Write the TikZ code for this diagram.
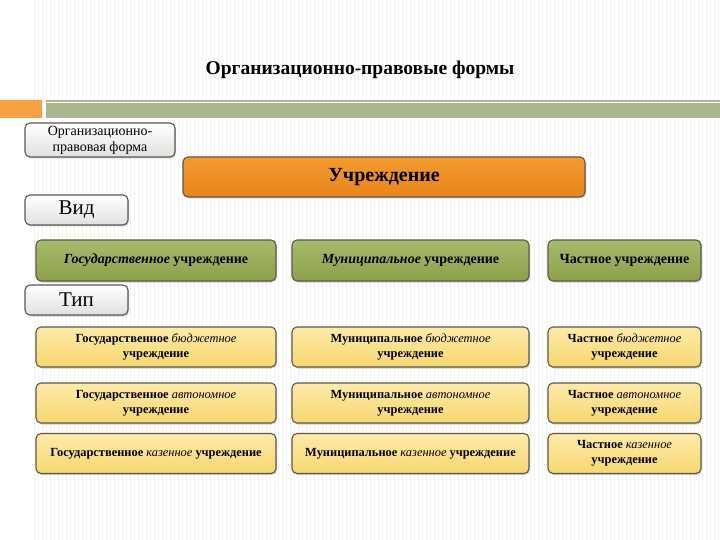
\documentclass[tikz,border=0pt]{standalone}
\usepackage{fontspec}
\setmainfont{Liberation Serif}
\usetikzlibrary{shadows}
\definecolor{barorange}{HTML}{F6A244}
\definecolor{bargreen}{HTML}{A9B690}
\definecolor{edgegray}{HTML}{5A5A48}
\definecolor{stripegray}{HTML}{F2F2F2}
\definecolor{greentop}{HTML}{A8BB6C}
\definecolor{greenbot}{HTML}{8C9F4A}
\definecolor{yellowtop}{HTML}{FEEBAA}
\definecolor{yellowbot}{HTML}{F8D770}
\definecolor{orangetop}{HTML}{F39B30}
\definecolor{orangebot}{HTML}{E8841A}
\newcommand{\kindword}[1]{{\mdseries\itshape #1}}
\tikzset{
  box/.style={draw=edgegray,line width=1.1pt,rounded corners=5pt,inner sep=0pt,
    align=center,drop shadow={opacity=0.35,shadow xshift=1pt,shadow yshift=-1.5pt}},
  labelbox/.style={box,top color=white,bottom color=black!12},
  orangebox/.style={box,top color=orangetop,bottom color=orangebot,
    minimum width=402pt,minimum height=40pt},
  greenbox/.style={box,top color=greentop,bottom color=greenbot,
    minimum height=41pt,font=\fontsize{14}{16}\selectfont\bfseries},
  yellowbox/.style={box,top color=yellowtop,bottom color=yellowbot,
    minimum height=40pt,font=\fontsize{12.4}{15}\selectfont\bfseries}
}
\begin{document}
\begin{tikzpicture}[x=1pt,y=-1pt]
  \useasboundingbox (0,0) rectangle (720,540);
  \fill[white] (0,0) rectangle (720,540);
  % slide stripes
  \foreach \x in {34,38,...,718}
    \draw[stripegray,line width=1pt] (\x,0) -- (\x,540);
  \node[font=\fontsize{19.5}{22}\selectfont\bfseries] (title) at (360,70) {Организационно-правовые формы};
  \fill[barorange] (0,100) rectangle (42,118);
  \fill[bargreen] (46,100) rectangle (720,118);
  \draw[white,line width=0.8pt] (46,102) -- (720,102);
  % left labels
  \node[labelbox,minimum width=150pt,minimum height=34pt,font=\fontsize{14}{16}\selectfont] (form) at (100,140)
    {Организационно-\\правовая форма};
  \node[labelbox,minimum width=103pt,minimum height=30pt,font=\fontsize{21}{22}\selectfont] (vid) at (76.5,210) {Вид};
  \node[labelbox,minimum width=103pt,minimum height=30pt,font=\fontsize{21}{22}\selectfont] (tip) at (76.5,300) {Тип};
  % top
  \node[orangebox,font=\fontsize{20}{22}\selectfont\bfseries] (inst) at (384,177) {Учреждение};
  % kinds
  \node[greenbox,minimum width=240pt] (gos) at (156,260.5) {\textit{Государственное} учреждение};
  \node[greenbox,minimum width=237pt] (mun) at (410.5,260.5) {\textit{Муниципальное} учреждение};
  \node[greenbox,minimum width=153pt] (chast) at (624.5,260.5) {Частное учреждение};
  % types
  \node[yellowbox,minimum width=240pt] (gosb) at (156,347) {Государственное \kindword{бюджетное}\\учреждение};
  \node[yellowbox,minimum width=237pt] (munb) at (410.5,347) {Муниципальное \kindword{бюджетное}\\учреждение};
  \node[yellowbox,minimum width=153pt] (chastb) at (624.5,347) {Частное \kindword{бюджетное}\\учреждение};
  \node[yellowbox,minimum width=240pt] (gosa) at (156,403) {Государственное \kindword{автономное}\\учреждение};
  \node[yellowbox,minimum width=237pt] (muna) at (410.5,403) {Муниципальное \kindword{автономное}\\учреждение};
  \node[yellowbox,minimum width=153pt] (chasta) at (624.5,403) {Частное \kindword{автономное}\\учреждение};
  \node[yellowbox,minimum width=240pt] (gosk) at (156,453.5) {Государственное \kindword{казенное} учреждение};
  \node[yellowbox,minimum width=237pt] (munk) at (410.5,453.5) {Муниципальное \kindword{казенное} учреждение};
  \node[yellowbox,minimum width=153pt] (chastk) at (624.5,453.5) {Частное \kindword{казенное}\\учреждение};
\end{tikzpicture}
\end{document}
